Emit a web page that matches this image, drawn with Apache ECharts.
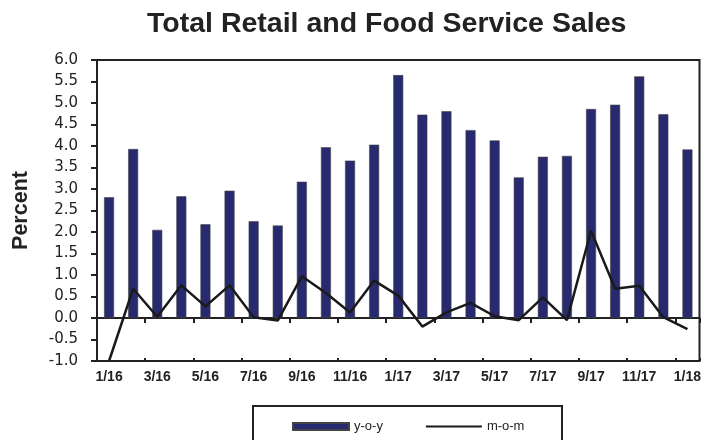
<!DOCTYPE html>
<html><head><meta charset="utf-8">
<script src="https://cdn.jsdelivr.net/npm/echarts@6/dist/echarts.min.js"></script>
<style>html,body{margin:0;padding:0;background:#fff}#c{width:704px;height:440px}</style>
</head><body><div id="c"></div>
<script>
const categories = ['1/16','2/16','3/16','4/16','5/16','6/16','7/16','8/16','9/16','10/16','11/16','12/16',
  '1/17','2/17','3/17','4/17','5/17','6/17','7/17','8/17','9/17','10/17','11/17','12/17','1/18'];
const yoy = [2.81,3.93,2.05,2.83,2.18,2.96,2.25,2.15,3.17,3.97,3.66,4.03,
  5.65,4.73,4.81,4.37,4.13,3.27,3.75,3.77,4.86,4.96,5.62,4.74,3.92];
const mom = [-1.0,0.68,0.03,0.76,0.27,0.76,0.02,-0.06,0.97,0.58,0.13,0.87,
  0.52,-0.20,0.13,0.35,0.04,-0.05,0.48,-0.05,2.03,0.68,0.75,0.02,-0.26];
const yTicks = {min:-1, max:6, interval:0.5};

const chart = echarts.init(document.getElementById('c'), null, {renderer:'canvas'});
const font = 'Liberation Sans, Arial, sans-serif';
chart.setOption({
  animation:false,
  textStyle:{fontFamily:font},
  title:{text:'Total Retail and Food Service Sales', left:147, top:10, padding:0,
    textStyle:{fontSize:28.5, fontWeight:'bold', color:'#222', fontFamily:font}},
  grid:{left:97, right:1, top:60, bottom:79, show:true, borderColor:'#222', borderWidth:2, backgroundColor:'transparent'},
  legend:{left:292, top:420, padding:0, itemWidth:56, itemHeight:7, itemGap:42,
    textStyle:{fontSize:13, color:'#222', fontFamily:font},
    data:[{name:'y-o-y', icon:'rect'},{name:'m-o-m', itemStyle:{opacity:0}}]},
  graphic:[
    {type:'rect', shape:{x:253, y:406, width:309, height:60}, style:{fill:'none', stroke:'#222', lineWidth:2}, silent:true}
  ],
  xAxis:[
    {type:'category', data:categories, position:'bottom', axisLine:{show:false, onZero:false}, axisTick:{show:false},
     axisLabel:{interval:1, fontSize:14, fontWeight:'bold', color:'#222', margin:9, fontFamily:font}},
    {type:'category', data:categories, position:'bottom', axisLine:{show:true, onZero:true, lineStyle:{color:'#222', width:2}},
     axisTick:{show:true, length:5, lineStyle:{color:'#222', width:2}}, axisLabel:{show:false}},
    {type:'category', data:categories, position:'bottom', axisLine:{show:false, onZero:true},
     axisTick:{show:true, inside:true, length:3, lineStyle:{color:'#222', width:2}}, axisLabel:{show:false}}
  ],
  yAxis:{type:'value', min:yTicks.min, max:yTicks.max, interval:yTicks.interval,
    name:'Percent', nameLocation:'middle', nameGap:65, nameRotate:90,
    nameTextStyle:{fontSize:21.5, fontWeight:'bold', color:'#222', fontFamily:font},
    axisLine:{show:true, lineStyle:{color:'#222', width:2}},
    axisTick:{show:true, length:6, lineStyle:{color:'#222', width:2}},
    splitLine:{show:false},
    axisLabel:{fontSize:15, color:'#222', margin:19, formatter:v=>v.toFixed(1), fontFamily:'DejaVu Sans'}},
  series:[
    {name:'y-o-y', type:'bar', data:yoy, barWidth:10, xAxisIndex:0,
     itemStyle:{color:'#282A70', borderColor:'#444', borderWidth:0.6}},
    {name:'m-o-m', type:'line', data:mom, xAxisIndex:0, symbol:'none', z:5,
     lineStyle:{color:'#1a1a1a', width:2.5}, itemStyle:{color:'#1a1a1a'}}
  ]
});
</script></body></html>
